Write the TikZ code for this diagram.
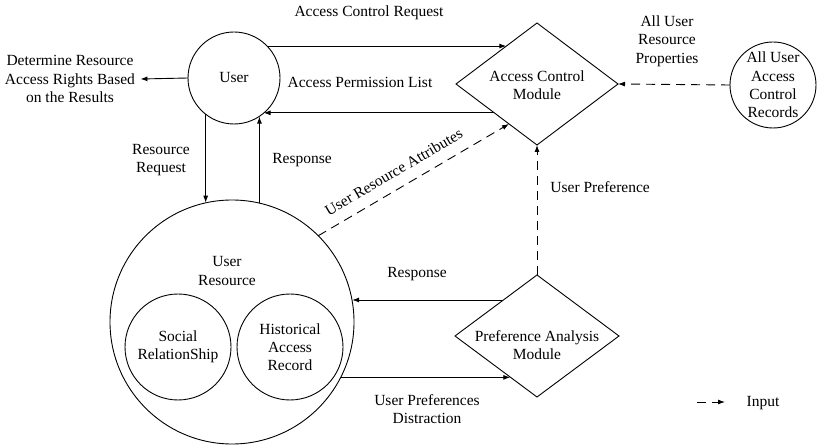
\documentclass[tikz,border=0pt]{standalone}
\usepackage{fontspec}
\setmainfont{Liberation Serif}
\usetikzlibrary{arrows.meta,shapes.geometric}
\begin{document}
\begin{tikzpicture}[x=1pt, y=-1pt, line width=0.9pt,
		font=\fontsize{15.5}{18.3}\selectfont,
		circ/.style={draw, circle, inner sep=0pt, outer sep=0pt, align=center},
		dmd/.style={draw, diamond, minimum width=162pt, minimum height=122pt, inner sep=0pt, outer sep=0pt},
		txt/.style={align=center, inner sep=1pt},
		arr/.style={-{Latex[length=7pt,width=5pt]}},
		dsh/.style={arr, dash pattern=on 9pt off 6pt}]
		\useasboundingbox (0,0) rectangle (817,446);
		\node[circ, minimum size=92pt] (user) at (234,78) {User};
		\node[circ, minimum size=244pt] (ures) at (232,322) {};
		\node[txt] (urestxt) at (227,271) {User\\Resource};
		\node[circ, minimum size=106pt] (soc) at (178,347) {Social\\RelationShip};
		\node[circ, minimum size=106pt] (hist) at (290,347) {Historical\\Access\\Record};
		\node[dmd] (acm) at (537,84) {};
		\node[txt] (acmtxt) at (537,85) {Access Control\\Module};
		\node[dmd, minimum width=164pt] (pam) at (537,336) {};
		\node[txt] (pamtxt) at (537,345) {Preference Analysis\\Module};
		\node[circ, minimum size=86pt] (aur) at (773,85) {All User\\Access\\Control\\Records};
		\node[txt, inner sep=5pt] (det) at (70,79) {Determine Resource\\Access Rights Based\\on the Results};
		\node[txt] (lreq) at (369,13) {Access Control Request};
		\node[txt] (lperm) at (360,82) {Access Permission List};
		\node[txt] (lrr) at (161,160) {Resource\\Request};
		\node[txt] (lresp) at (302,160) {Response};
		\node[txt, anchor=west] (lpref) at (549,187) {User Preference};
		\node[txt] (lresp2) at (417,274) {Response};
		\node[txt] (lupd) at (427,409) {User Preferences\\Distraction};
		\node[txt] (lprop) at (667,41) {All User\\Resource\\Properties};
		\node[txt] (lin) at (763,403) {Input};
		\coordinate (lg1) at (697,402);
		\coordinate (lg2) at (725,402);
		\draw[arr] (user.44) -- (user.44 -| acm.129);
		\draw[arr] (acm.214) -- (acm.214 -| user.-50);
		\draw[arr] (user.west) -- (det.east);
		\draw[arr] (user.232) -- (user.232 |- ures.102);
		\draw[arr] (ures.77) -- (ures.77 |- user.-57);
		\draw[dsh] (ures.45) -- (acm.235) node[pos=0.44, sloped, above=10pt, inner sep=1pt] (lattr) {User Resource Attributes};
		\draw[dsh] (pam.north) -- (acm.south);
		\draw[dsh] (aur.west) -- (acm.east);
		\draw[arr] (pam.133) -- (pam.133 -| ures.10);
		\draw[arr] (ures.-27) -- (ures.-27 -| pam.237);
		\draw[dsh] (lg1) -- (lg2);
	\end{tikzpicture}
\end{document}
